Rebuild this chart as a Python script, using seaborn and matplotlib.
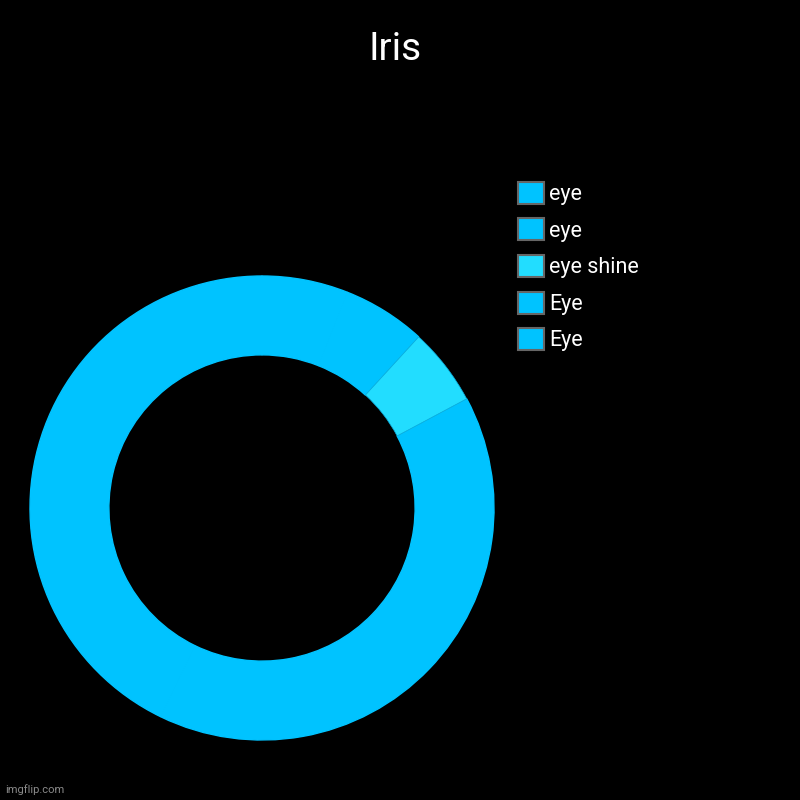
import matplotlib
matplotlib.use("Agg")
import matplotlib.pyplot as plt
import seaborn as sns
from matplotlib.patches import Patch

sns.set_theme(style="dark")
plt.rcParams['font.family'] = ['Roboto', 'DejaVu Sans']

title = "Iris"
labels = ["eye", "eye", "eye shine", "Eye", "Eye"]
values = [6.0, 5.8, 5.4, 40.0, 42.8]
colors = ["#00C3FF", "#00C3FF", "#22DDFF", "#00C3FF", "#00C3FF"]

fig = plt.figure(figsize=(8, 8), dpi=100, facecolor="black")
ax = fig.add_axes([0.0375, 0.075, 0.58, 0.58])
ax.set_facecolor("black")
wedges, _ = ax.pie(values, colors=colors, startangle=90, counterclock=False,
                   radius=1.0,
                   wedgeprops=dict(width=0.34, linewidth=1.0))
for w, c in zip(wedges, colors):
    w.set_edgecolor(c)
# thin seam only around eye shine
wedges[2].set_edgecolor("#0aa8d8")
wedges[2].set_linewidth(0.5)
wedges[2].set_zorder(5)
ax.set_xlim(-1, 1)
ax.set_ylim(-1, 1)
ax.set_aspect("equal")
ax.axis("off")

fig.text(0.494, 0.938, title, ha="center", va="center", color="white", fontsize=28)

handles = [Patch(facecolor=c, edgecolor="#666666", linewidth=1.5) for c in colors]
leg = fig.legend(handles, labels, loc="upper left", bbox_to_anchor=(0.648, 0.773),
                 frameon=False, fontsize=15.5, labelcolor="white",
                 handlelength=1.2, handleheight=1.2, handletextpad=0.22,
                 labelspacing=0.62, borderpad=0, borderaxespad=0)

fig.text(0.006, 0.006, "imgflip.com", ha="left", va="bottom", color="#8a8a8a", fontsize=8)

fig.savefig("out.png", dpi=100, facecolor="black")
